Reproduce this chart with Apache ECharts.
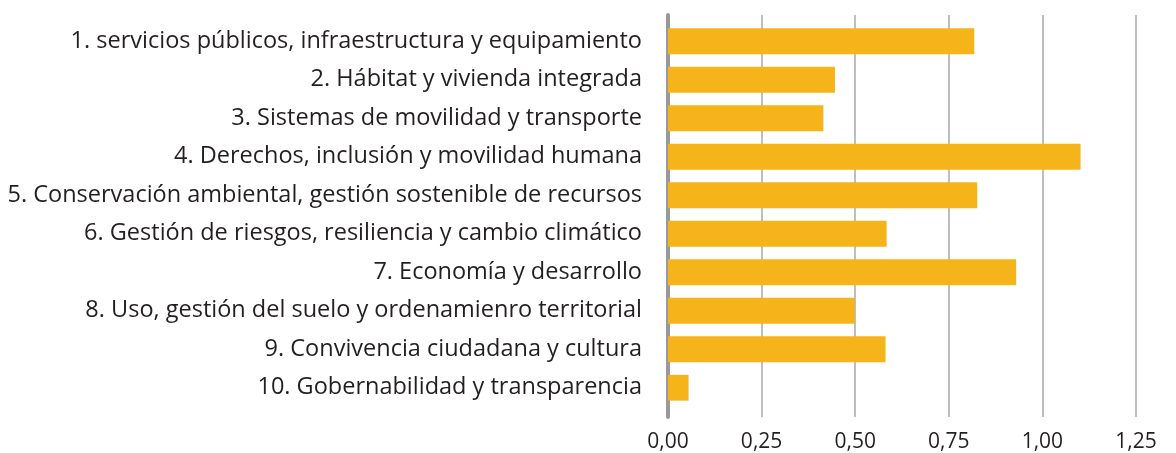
<!DOCTYPE html>
<html>
<head>
<meta charset="utf-8">
<script src="https://cdn.jsdelivr.net/npm/echarts@6/dist/echarts.min.js"></script>
<style>
  html, body { margin: 0; padding: 0; background: #fff; }
  #chart { width: 1176px; height: 453px; }
</style>
</head>
<body>
<div id="chart"></div>
<script>
  // categorías (de arriba hacia abajo)
  var categories = [
    '1. servicios públicos, infraestructura y equipamiento',
    '2. Hábitat y vivienda integrada',
    '3. Sistemas de movilidad y transporte',
    '4. Derechos, inclusión y movilidad humana',
    '5. Conservación ambiental, gestión sostenible de recursos',
    '6. Gestión de riesgos, resiliencia y cambio climático',
    '7. Economía y desarrollo',
    '8. Uso, gestión del suelo y ordenamienro territorial',
    '9. Convivencia ciudadana y cultura',
    '10. Gobernabilidad y transparencia'
  ];
  var values = [0.818, 0.446, 0.415, 1.102, 0.826, 0.584, 0.930, 0.499, 0.581, 0.055];
  var xTicks = [0, 0.25, 0.5, 0.75, 1, 1.25];

  var chart = echarts.init(document.getElementById('chart'));
  chart.setOption({
    animation: false,
    // grid 0: marco (líneas de división y eje), grid 1: barras y categorías
    grid: [
      { left: 668, right: 40, top: 15, bottom: 36 },
      { left: 668, right: 40, top: 22, bottom: 46 }
    ],
    xAxis: [{
      type: 'value',
      gridIndex: 0,
      min: xTicks[0],
      max: xTicks[xTicks.length - 1],
      interval: 0.25,
      axisLine: { show: false },
      axisTick: { show: false },
      axisLabel: {
        margin: 15,
        fontFamily: 'Open Sans',
        fontSize: 21,
        color: '#231f20',
        formatter: function (v) {
          return v.toFixed(2).replace('.', ',');
        }
      },
      splitLine: {
        show: true,
        lineStyle: { color: '#a8a8a8', width: 1.5 }
      }
    }, {
      type: 'value',
      gridIndex: 1,
      min: xTicks[0],
      max: xTicks[xTicks.length - 1],
      interval: 0.25,
      show: false
    }],
    yAxis: [{
      type: 'value',
      gridIndex: 0,
      axisLine: {
        show: true,
        lineStyle: { color: '#999999', width: 4 }
      },
      axisTick: { show: false },
      axisLabel: { show: false },
      splitLine: { show: false }
    }, {
      type: 'category',
      gridIndex: 1,
      inverse: true,
      data: categories,
      axisLine: { show: false },
      axisTick: { show: false },
      axisLabel: {
        margin: 26,
        fontFamily: 'Open Sans',
        fontSize: 23.5,
        color: '#231f20'
      }
    }],
    series: [{
      type: 'bar',
      xAxisIndex: 1,
      yAxisIndex: 1,
      data: values,
      barCategoryGap: '33%',
      itemStyle: { color: '#f5b41a' },
      z: 1
    }]
  });
</script>
</body>
</html>
